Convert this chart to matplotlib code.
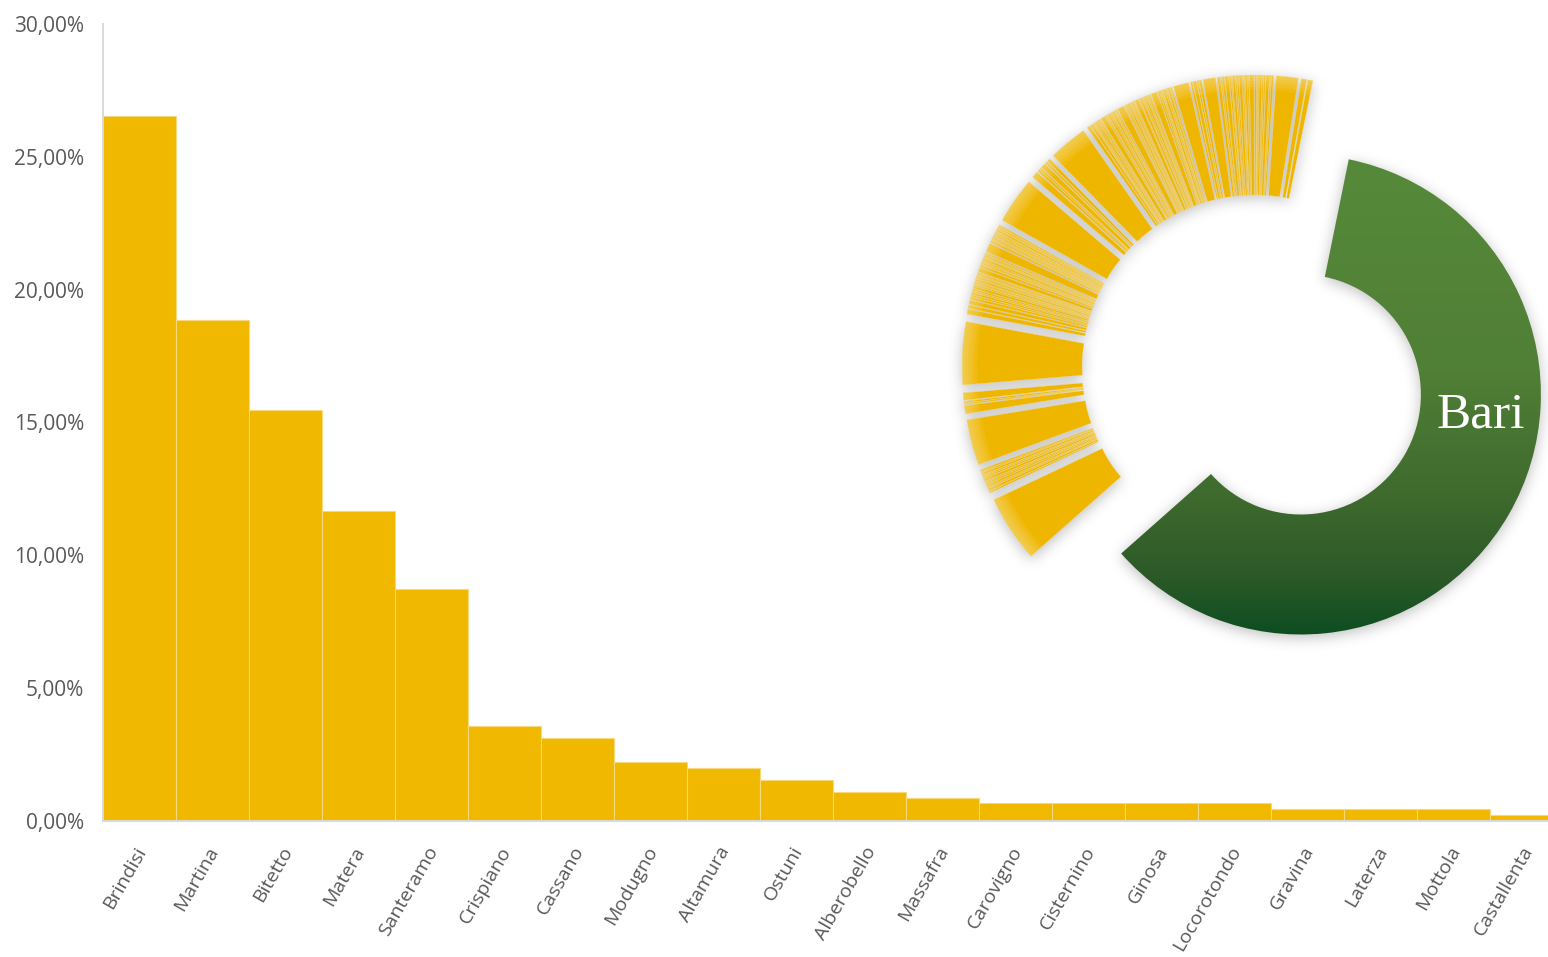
import numpy as np
import matplotlib
matplotlib.use('Agg')
from matplotlib import pyplot as plt
from matplotlib.figure import Figure
from matplotlib.backends.backend_agg import FigureCanvasAgg
from matplotlib.patches import Wedge
from matplotlib.colors import LinearSegmentedColormap
from matplotlib.ticker import FuncFormatter

# bar chart data (percent)
towns = ['Brindisi', 'Martina', 'Bitetto', 'Matera', 'Santeramo', 'Crispiano',
         'Cassano', 'Modugno', 'Altamura', 'Ostuni', 'Alberobello', 'Massafra',
         'Carovigno', 'Cisternino', 'Ginosa', 'Locorotondo', 'Gravina',
         'Laterza', 'Mottola', 'Castallenta']
shares = [26.52, 18.86, 15.48, 11.68, 8.74, 3.56, 3.11, 2.22, 1.98, 1.55,
          1.10, 0.87, 0.67, 0.67, 0.67, 0.67, 0.45, 0.45, 0.45, 0.22]

# donut data (relative shares), yellow ones listed from the top end going round
bari_share = 217.0
other_shares = [
    1.2, 1.3,
    5.3,
    0.5, 0.3, 0.8, 0.4, 0.3, 0.6, 0.3, 0.2, 0.4, 1.1, 0.3, 0.5, 0.2, 0.3,
    0.7, 0.4, 0.3, 0.6, 0.2, 0.4, 0.9, 0.5, 0.3, 0.7,
    3.0,
    0.6, 0.4, 0.8, 0.5,
    3.7,
    0.3, 0.2, 0.4, 0.2, 0.3, 0.5, 0.2, 0.2, 0.3, 0.4, 1.4, 0.2, 0.3, 0.2,
    0.2, 0.4, 0.3, 0.2, 0.5, 0.2, 0.9, 0.2, 0.2, 0.3, 0.2, 0.2, 0.4, 0.2,
    0.3, 0.2, 1.6, 0.3, 0.2, 0.2, 0.4, 0.2, 0.3, 0.5, 0.2, 0.3, 1.1, 0.2,
    0.3, 0.2, 0.4, 0.3, 0.2, 0.2, 0.6, 0.8,
    9.4,
    0.8, 0.5, 1.2, 0.4, 0.6, 1.6,
    11.2,
    0.3, 0.2, 0.3, 0.2, 0.4, 0.2, 0.3, 0.2, 0.3, 0.2, 0.2, 0.3, 0.2, 0.2,
    0.4, 2.2, 0.3, 0.2, 0.3, 0.2, 0.2, 0.4, 0.3, 0.2, 0.3, 0.2, 0.5, 1.0,
    0.2, 0.3, 0.2, 0.2, 0.3, 0.2, 0.4, 0.2, 0.3, 0.2, 0.3, 0.6, 0.4, 0.3,
    0.5, 0.4, 0.6,
    1.0, 0.8, 1.2,
    15.2,
    1.8, 0.4, 0.3, 2.0,
    11.1,
    0.4, 0.3, 0.5, 0.3, 0.4, 0.6, 0.3, 0.4, 0.5, 0.3, 0.6, 0.4,
    16.2,
]

W, H = 1548, 957
YELLOW = '#EFB600'
GREY_TXT = '#595959'

# donut geometry in pixels (y up)
CX, CY = 1255, H - 368
R_OUT, RING, EXPLODE = 240, 120, 53
START = 78.5


def donut_wedges():
    '''(theta1, theta2, is_bari) for every slice'''
    total = bari_share + sum(other_shares)
    out = []
    t = START
    for s in other_shares:
        w = s / total * 360.0
        out.append((t, t + w, False))
        t += w
    out.append((t - 360.0, START, True))
    return out


def centre_for(t1, t2):
    mid = np.deg2rad((t1 + t2) / 2.0)
    return (CX + EXPLODE * np.cos(mid), CY + EXPLODE * np.sin(mid))


def setup_pixel_axes(fig):
    ax = fig.add_axes([0, 0, 1, 1])
    ax.set_xlim(0, W)
    ax.set_ylim(0, H)
    ax.axis('off')
    ax.patch.set_visible(False)
    return ax


def box_blur(a, r):
    k = 2 * r + 1
    for axis in (0, 1):
        b = np.moveaxis(a, axis, -1)
        p = np.pad(b, [(0, 0), (r + 1, r)], mode='edge')
        c = np.cumsum(p, axis=-1)
        b = (c[:, k:] - c[:, :-k]) / k
        a = np.moveaxis(b, -1, axis)
    return a


# soft shadow under the donut
mfig = Figure(figsize=(W / 100, H / 100), dpi=100)
canvas = FigureCanvasAgg(mfig)
max_ = setup_pixel_axes(mfig)
for t1, t2, _ in donut_wedges():
    max_.add_patch(Wedge(centre_for(t1, t2), R_OUT, t1, t2, width=RING,
                         facecolor='black', edgecolor='black', linewidth=0.5))
canvas.draw()
mask = 1.0 - np.asarray(canvas.buffer_rgba())[..., 0].astype(float) / 255.0
mask = np.roll(mask, 3, axis=0)
for _ in range(3):
    mask = box_blur(mask, 6)
shadow = np.zeros((H, W, 4))
shadow[..., :3] = 0.42
shadow[..., 3] = np.clip(mask, 0, 1) * 0.42

fig = plt.figure(figsize=(W / 100, H / 100), dpi=100)

# ---- bar chart ----
ax = fig.add_axes([103 / W, 136 / H, 1445 / W, 797 / H], zorder=0)
x = np.arange(len(towns))
ax.bar(x, np.array(shares) / 100.0, width=1.0, color='#F1B800',
       edgecolor='#F6D87E', linewidth=0.8, zorder=2)
ax.set_xlim(-0.5, -0.5 + 1445 / 73.0)
ax.set_ylim(0, 0.30)
ax.set_yticks(np.arange(0, 0.301, 0.05))
ax.yaxis.set_major_formatter(FuncFormatter(lambda v, p: ('%.2f%%' % (v * 100)).replace('.', ',')))
ax.tick_params(axis='y', length=0, pad=13.5, labelsize=15, labelcolor=GREY_TXT)
for lab in ax.get_yticklabels():
    lab.set_family('Open Sans')
ax.set_xticks([])
for side in ('top', 'right'):
    ax.spines[side].set_visible(False)
for side in ('left', 'bottom'):
    ax.spines[side].set_color('#D9D9D9')
    ax.spines[side].set_linewidth(1.4)
ax.spines['bottom'].set_zorder(3)
for i, name in enumerate(towns):
    ax.annotate(name, xy=(i, 0), xycoords=('data', 'axes fraction'),
                xytext=(-4, -16), textcoords='offset points', rotation=60,
                ha='right', va='top', rotation_mode='anchor',
                fontsize=14, color=GREY_TXT, family='Open Sans',
                annotation_clip=False)

fig.figimage(shadow, xo=0, yo=0, origin='upper', zorder=1)

# ---- donut ----
dax = setup_pixel_axes(fig)
dax.set_zorder(2)
green = LinearSegmentedColormap.from_list(
    'bari', [(0.0, '#568A3A'), (0.45, '#507F36'), (0.7, '#3F6B2E'),
             (0.88, '#2B5927'), (1.0, '#0C4D21')])
for t1, t2, is_bari in donut_wedges():
    c = centre_for(t1, t2)
    if is_bari:
        wg = Wedge(c, R_OUT, t1, t2, width=RING, facecolor='none', edgecolor='none')
        dax.add_patch(wg)
        grad = np.linspace(0, 1, 256).reshape(-1, 1)
        im = dax.imshow(grad, extent=(1000, 1560, H - 637, H - 155), origin='upper',
                        cmap=green, aspect='auto', interpolation='bilinear')
        im.set_clip_path(wg)
        continue
    dax.add_patch(Wedge(c, R_OUT, t1, t2, width=RING, facecolor=YELLOW,
                        edgecolor='#F8DE8E', linewidth=0.2))
    # lighter rim on the outside
    for w in (3, 6, 9, 12, 15):
        dax.add_patch(Wedge(c, R_OUT, t1, t2, width=w, facecolor='white',
                            edgecolor='none', alpha=0.07))

dax.set_xlim(0, W)
dax.set_ylim(0, H)
dax.text(1481, H - 415, 'Bari', color='white', fontsize=37,
         family='Liberation Serif', ha='center', va='center')

fig.savefig('out.png', dpi=100)
